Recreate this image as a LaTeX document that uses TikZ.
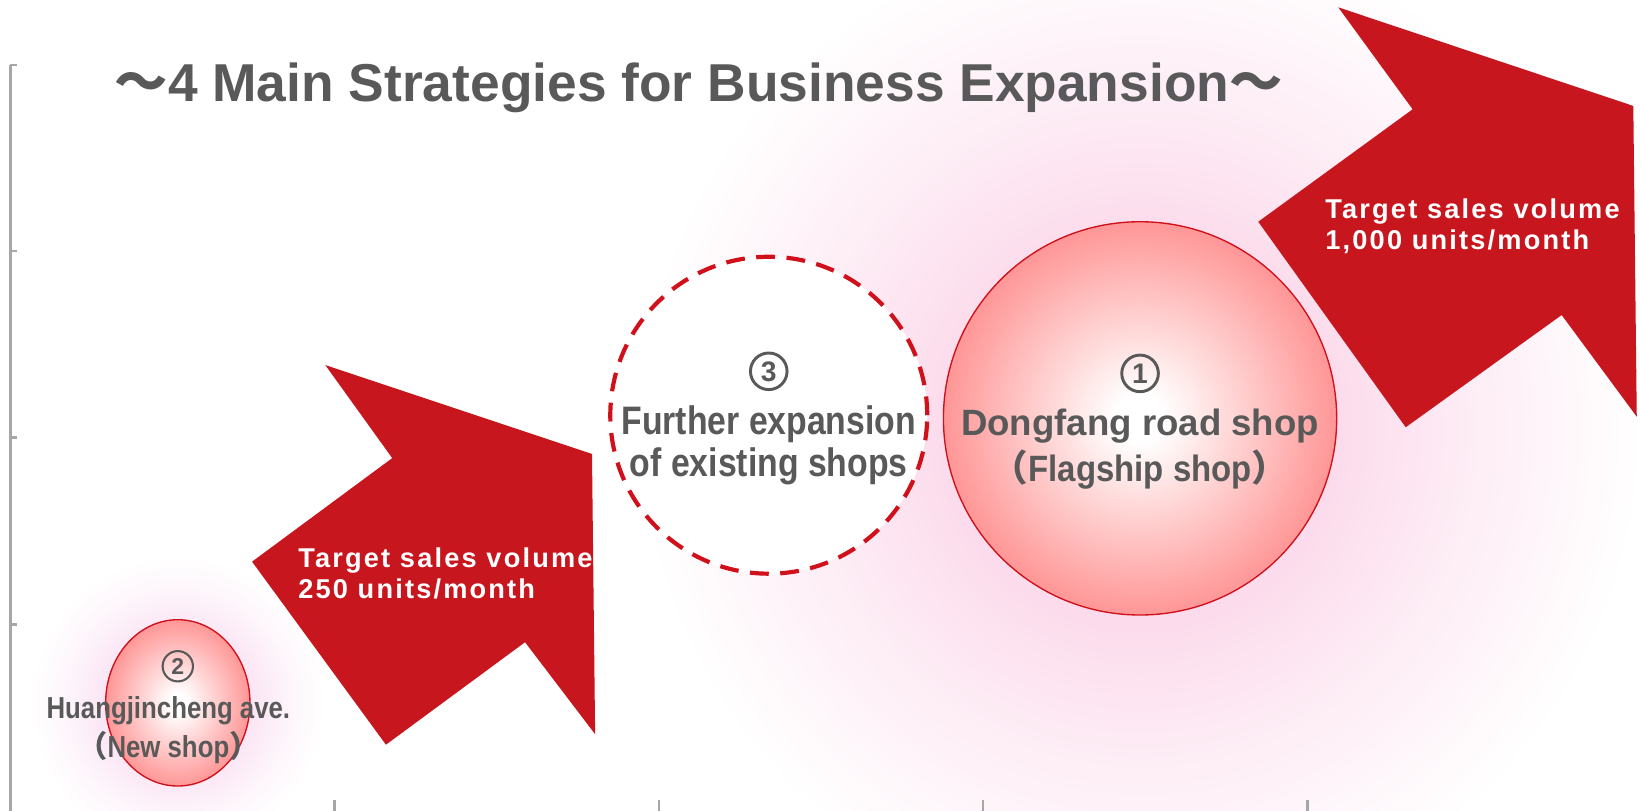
\documentclass[tikz,border=0pt]{standalone}
\usepackage{fontspec}
\setmainfont{Liberation Sans}
\newfontfamily\cjkbold{Noto Sans CJK SC Bold}
\newfontfamily\narrowfont{Liberation Sans}[FakeStretch=0.85]
\newfontfamily\semifont{Liberation Sans}[FakeStretch=0.9]
\newfontfamily\spacedfont{Liberation Sans}[LetterSpace=8]
\usetikzlibrary{shapes.geometric}

\definecolor{inkgray}{RGB}{89,89,89}
\definecolor{arrowred}{RGB}{200,22,30}
\definecolor{rimred}{RGB}{208,16,26}
\definecolor{ballpink}{RGB}{255,150,150}
\definecolor{glowpink}{RGB}{252,220,236}
\definecolor{glowlilac}{RGB}{251,230,245}
\definecolor{axisgray}{RGB}{166,166,166}

% shop bubbles: white core fading to salmon at the rim (rim = 25bp)
\pgfdeclareradialshading{shopball}{\pgfpoint{0bp}{0bp}}{color(0bp)=(white); color(3bp)=(white); color(25bp)=(ballpink); color(50bp)=(ballpink)}
% soft halos behind the bubbles
\pgfdeclareradialshading{glowbig}{\pgfpoint{0bp}{0bp}}{color(0bp)=(glowpink); color(10bp)=(glowpink); color(16bp)=(glowpink!55!white); color(25bp)=(white); color(50bp)=(white)}
\pgfdeclareradialshading{glowsmall}{\pgfpoint{0bp}{0bp}}{color(0bp)=(glowlilac); color(13bp)=(glowlilac); color(19bp)=(glowlilac!40!white); color(25bp)=(white); color(50bp)=(white)}

\newcommand\fwl{{\cjkbold （}}
\newcommand\fwr{{\cjkbold ）}}

\tikzset{
  headline/.style={font=\bfseries\fontsize{51}{60}\selectfont, text=inkgray, inner sep=0pt},
  shoplabel/.style={text=inkgray, align=center, inner sep=0pt},
  numbermark/.style={circle, draw=inkgray, text=inkgray, inner sep=0pt,
    line width=2.8pt, minimum size=35pt, font=\bfseries\fontsize{27}{27}\selectfont},
  targetlabel/.style={text=white, align=left, inner sep=0pt, anchor=west,
    font=\spacedfont\bfseries\fontsize{26}{29.5}\selectfont},
  bigarrow/.style={fill=arrowred},
  axisline/.style={draw=axisgray, line width=2.5pt},
  bubble/.style={circle, shade, shading=shopball, draw=rimred, line width=1.3pt, inner sep=0pt},
  plannedbubble/.style={circle, fill=white, draw=rimred, line width=4pt,
    dash pattern=on 18pt off 11pt, inner sep=0pt}
}

\begin{document}
\begin{tikzpicture}[x=1pt,y=-1pt]
\useasboundingbox (0,0) rectangle (1568,775);
\fill[white] (0,0) rectangle (1568,775);

% halos
\shade[shading=glowbig] (1090,410) circle (480pt);
\shade[shading=glowsmall] (170,672) circle (140pt);

% chart axes
\draw[axisline] (10,62) -- (10,776);
\foreach \yy in {62,240,418,597} \draw[axisline] (10,\yy) -- (16,\yy);
\foreach \xx in {320,630,940,1250} \draw[axisline] (\xx,765) -- (\xx,776);

% growth arrows
\fill[bigarrow] (241,537) -- (375,438) -- (311,349) -- (566,434) -- (569,702) -- (502,614) -- (369,712) -- cycle;
\fill[bigarrow] (1203,212) -- (1350.6,104.5) -- (1279.5,7) -- (1561.6,101.3) -- (1564.9,398.4) -- (1493.1,301.2) -- (1344,408.5) -- cycle;

\node[targetlabel] (target250) at (285,548) {Target sales volume\\250 units/month};
\node[targetlabel] (target1000) at (1267,216) {Target sales volume\\1,000 units/month};

% shops
\node[bubble, minimum size=376pt] (dongfang) at (1090,400) {};
\node[plannedbubble, minimum size=303pt] (existing) at (735,397) {};
\node[bubble, ellipse, minimum width=138pt, minimum height=159pt] (huangjin) at (170,672) {};

% strategy numbers
\node[numbermark] (num1) at (1090,357) {1};
\node[numbermark] (num3) at (735,355) {3};
\node[numbermark, minimum size=29pt, line width=2pt, font=\bfseries\fontsize{22}{22}\selectfont] (num2) at (170,637) {2};

\node[shoplabel, font=\bfseries\fontsize{35}{44}\selectfont] (dongfangtext) at (1090,429)
  {Dongfang road shop\\{\semifont\bfseries\fwl Flagship shop\fwr}};
\node[shoplabel, font=\narrowfont\bfseries\fontsize{38}{40}\selectfont] (existingtext) at (735,426)
  {Further expansion\\of existing shops};
\node[shoplabel, font=\narrowfont\bfseries\fontsize{29}{37}\selectfont] (huangjintext) at (161,698)
  {Huangjincheng ave.\\\fwl New shop\fwr};

% title
\node[headline] (title) at (668,84) {{\cjkbold 〜}4 Main Strategies for Business Expansion{\cjkbold 〜}};
\end{tikzpicture}
\end{document}
